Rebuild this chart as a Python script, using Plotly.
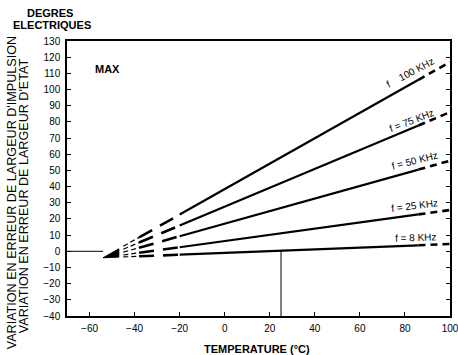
import plotly.graph_objects as go

# ---- data ----
freq_labels = ["f    100 KHz", "f = 75 KHz", "f = 50 KHz", "f = 25 KHz", "f = 8 KHz"]
break_temps = [-45, -38, -20, 86, 100]          # temperature (°C) at segment breaks
err_100k = [3.1, 8.6, 22.7, 106.0, 117.0]
err_75k = [1.3, 5.4, 15.9, 77.8, 86.0]
err_50k = [-0.5, 2.2, 9.3, 50.5, 56.0]
err_25k = [-2.3, -0.9, 2.5, 22.8, 25.5]
err_8k = [-3.5, -3.1, -2.1, 3.7, 4.5]
series = [err_100k, err_75k, err_50k, err_25k, err_8k]

fan_temps = [-54, -47]
fan_upper = [-4, 1.5]
fan_lower = [-4, -3.6]

label_temps = [82.4, 83.0, 84.4, 84.4, 84.8]
label_errs = [110.5, 81.0, 56.4, 28.6, 8.8]
label_angles = [-28, -21, -14, -7, -2]

ref_temp = 25
ref_err_top = 0.4
zero_line_temps = [-70, -54]

x_ticks = [-60, -40, -20, 0, 20, 40, 60, 80, 100]
y_ticks = list(range(-40, 131, 10))

FONT = "Liberation Sans, Arial, sans-serif"
BLACK = "#000000"

fig = go.Figure()

# fan wedge at the convergence point
fig.add_trace(go.Scatter(
    x=fan_temps + fan_temps[::-1] + fan_temps[:1],
    y=fan_upper + fan_lower[::-1] + fan_upper[:1],
    fill="toself", fillcolor=BLACK, mode="lines",
    line=dict(color=BLACK, width=1), hoverinfo="skip", showlegend=False))

for vals in series:
    fig.add_trace(go.Scatter(x=break_temps[0:2], y=vals[0:2], mode="lines",
                             line=dict(color=BLACK, width=1.2, dash="5px,3px"),
                             showlegend=False))
    fig.add_trace(go.Scatter(x=break_temps[1:3], y=vals[1:3], mode="lines",
                             line=dict(color=BLACK, width=2.6, dash="15px,9px"),
                             showlegend=False))
    fig.add_trace(go.Scatter(x=break_temps[2:4], y=vals[2:4], mode="lines",
                             line=dict(color=BLACK, width=2.2),
                             showlegend=False))
    fig.add_trace(go.Scatter(x=break_temps[3:5], y=vals[3:5], mode="lines",
                             line=dict(color=BLACK, width=2.6, dash="7px,5px"),
                             showlegend=False))

# reference lines
fig.add_trace(go.Scatter(x=zero_line_temps, y=[0, 0], mode="lines",
                         line=dict(color=BLACK, width=1), showlegend=False))
fig.add_trace(go.Scatter(x=[ref_temp, ref_temp], y=[-40, ref_err_top], mode="lines",
                         line=dict(color=BLACK, width=1), showlegend=False))

annotations = []
for txt, tx, ty, ang in zip(freq_labels, label_temps, label_errs, label_angles):
    annotations.append(dict(x=tx, y=ty, xref="x", yref="y", text=txt, showarrow=False,
                            xanchor="center", yanchor="middle",
                            textangle=ang, font=dict(family=FONT, size=10, color=BLACK)))

def paper_text(text, x, y, size, angle=0):
    return dict(x=x, y=y, xref="paper", yref="paper", text=text, showarrow=False,
                xanchor="center", yanchor="middle", textangle=angle,
                font=dict(family=FONT, size=size, color=BLACK))

annotations += [
    dict(x=-52, y=113, xref="x", yref="y", text="<b>MAX</b>", showarrow=False,
         xanchor="center", yanchor="middle", font=dict(family=FONT, size=11, color=BLACK)),
    paper_text("<b>DEGRES</b>", -0.044, 1.102, 11),
    paper_text("<b>ELECTRIQUES</b>", -0.039, 1.058, 11),
    paper_text("VARIATION EN ERREUR DE LARGEUR D'IMPULSION", -0.143, 0.447, 12.6, -90),
    paper_text("VARIATION EN ERREUR DE LARGEUR D'ETAT", -0.112, 0.436, 12.6, -90),
    paper_text("<b>TEMPERATURE (°C)</b>", 0.496, -0.12, 11),
]

fig.update_layout(
    width=458, height=355,
    margin=dict(l=67, r=8, t=41, b=39),
    paper_bgcolor="white", plot_bgcolor="white",
    font=dict(family=FONT, size=10, color=BLACK),
    annotations=annotations,
    showlegend=False,
    xaxis=dict(range=[-70, 100], tickvals=x_ticks, ticks="inside", ticklen=4, tickwidth=1,
               tickcolor=BLACK, showline=True, linecolor=BLACK, linewidth=1.5, mirror=True,
               showgrid=False, zeroline=False, ticklabelstandoff=2, automargin=False,
               ticklabeloverflow="allow",
               tickfont=dict(family=FONT, size=10, color=BLACK)),
    yaxis=dict(range=[-40, 130], tickvals=y_ticks, ticks="inside", ticklen=4, tickwidth=1,
               tickcolor=BLACK, showline=True, linecolor=BLACK, linewidth=1.5, mirror="ticks",
               showgrid=False, zeroline=False, ticklabelstandoff=3, automargin=False,
               ticklabeloverflow="allow",
               tickfont=dict(family=FONT, size=10, color=BLACK)),
)

# remove the browser's default 8px body margin so the figure fills the window exactly
fig.write_html("out.html",
               config={"displayModeBar": False},
               post_script="document.body.style.margin='0';document.body.style.overflow='hidden';")
